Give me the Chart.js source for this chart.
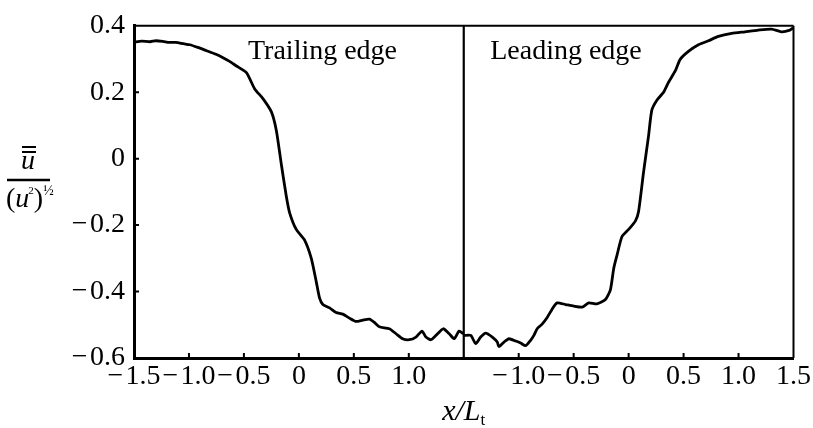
<!DOCTYPE html>
<html>
<head>
<meta charset="utf-8">
<script src="https://cdn.jsdelivr.net/npm/chart.js@4/dist/chart.umd.min.js"></script>
<style>
  html, body { margin: 0; padding: 0; background: #fff; }
  #wrap { width: 813px; height: 428px; }
</style>
</head>
<body>
<div id="wrap"><canvas id="c" width="813" height="428"></canvas></div>
<script>
// ---- Data (x in units of x/L_t, y = u / (u'^2)^1/2) ----
const trailingX = [-1.50, -1.43, -1.355, -1.30, -1.237, -1.18, -1.119, -1.05, -0.992, -0.92, -0.840, -0.76, -0.690, -0.63, -0.568, -0.477, -0.402, -0.327, -0.250, -0.205, -0.160, -0.114, -0.084, -0.024, 0.052, 0.113, 0.158, 0.188, 0.218, 0.279, 0.339, 0.399, 0.46, 0.521, 0.581, 0.642, 0.687, 0.732, 0.823, 0.884, 0.944, 1.005, 1.065, 1.12, 1.156, 1.201, 1.247, 1.313, 1.368, 1.413, 1.458, 1.495];
const trailingY = [0.351, 0.354, 0.352, 0.355, 0.353, 0.350, 0.350, 0.346, 0.343, 0.335, 0.325, 0.315, 0.304, 0.293, 0.279, 0.259, 0.21, 0.181, 0.141, 0.085, -0.016, -0.114, -0.163, -0.213, -0.245, -0.30, -0.37, -0.419, -0.439, -0.449, -0.463, -0.468, -0.48, -0.49, -0.486, -0.483, -0.493, -0.506, -0.512, -0.527, -0.542, -0.545, -0.537, -0.519, -0.537, -0.545, -0.532, -0.512, -0.527, -0.542, -0.519, -0.527];

const leadingX = [-1.497, -1.436, -1.391, -1.346, -1.300, -1.240, -1.195, -1.180, -1.134, -1.089, -1.028, -0.983, -0.937, -0.892, -0.862, -0.832, -0.787, -0.741, -0.696, -0.651, -0.574, -0.499, -0.424, -0.363, -0.288, -0.211, -0.166, -0.136, -0.106, -0.061, 0.000, 0.061, 0.091, 0.136, 0.181, 0.211, 0.257, 0.318, 0.363, 0.424, 0.469, 0.544, 0.635, 0.726, 0.817, 0.937, 1.059, 1.180, 1.300, 1.391, 1.467, 1.497];
const leadingY = [-0.532, -0.532, -0.557, -0.537, -0.525, -0.537, -0.552, -0.566, -0.552, -0.542, -0.549, -0.555, -0.563, -0.547, -0.532, -0.512, -0.498, -0.478, -0.453, -0.434, -0.439, -0.444, -0.447, -0.434, -0.437, -0.424, -0.395, -0.331, -0.291, -0.235, -0.213, -0.188, -0.158, -0.04, 0.068, 0.146, 0.176, 0.2, 0.23, 0.264, 0.299, 0.323, 0.343, 0.355, 0.368, 0.377, 0.382, 0.387, 0.39, 0.382, 0.387, 0.394];

// bottom axis: two panels side by side, each spanning -1.5 .. 1.5
const xTickLabels = ['\u2212\u200a1.5', '\u2212\u200a1.0', '\u2212\u200a0.5', '0', '0.5', '1.0', '', '\u2212\u200a1.0', '\u2212\u200a0.5', '0', '0.5', '1.0', '1.5'];
const yTickLabels = ['\u2212\u200a0.6', '\u2212\u200a0.4', '\u2212\u200a0.2', '0', '0.2', '0.4'];
const panelLabels = ['Trailing edge', 'Leading edge'];

// ---- Build library data ----
const trailingOffset = 1.5, leadingOffset = 4.5;
const trailingPts = trailingX.map((x, i) => ({ x: x + trailingOffset, y: trailingY[i] }));
const leadingPts = leadingX.map((x, i) => ({ x: x + leadingOffset, y: leadingY[i] }));

const FONT = 'Liberation Serif, Times New Roman, serif';

const decor = {
  id: 'decor',
  afterDraw(chart) {
    const { ctx, chartArea: a, scales: { x, y } } = chart;
    ctx.save();
    ctx.strokeStyle = '#000';
    ctx.fillStyle = '#000';
    ctx.lineCap = 'butt';
    // top and right frame
    ctx.lineWidth = 2;
    ctx.beginPath();
    ctx.moveTo(a.left, a.top); ctx.lineTo(a.right, a.top);
    ctx.moveTo(a.right, a.top); ctx.lineTo(a.right, a.bottom);
    ctx.stroke();
    // divider between panels
    const mx = x.getPixelForValue(3);
    ctx.lineWidth = 2.2;
    ctx.beginPath();
    ctx.moveTo(mx, a.top); ctx.lineTo(mx, a.bottom);
    ctx.stroke();
    // inward tick marks
    ctx.lineWidth = 2;
    ctx.beginPath();
    x.ticks.forEach((t, i) => {
      const px = x.getPixelForTick(i);
      if (Math.abs(t.value - 3) < 1e-6 || i === 0 || i === x.ticks.length - 1) return;
      ctx.moveTo(px, a.bottom); ctx.lineTo(px, a.bottom - 5);
    });
    y.ticks.forEach((t, i) => {
      if (i === 0 || i === y.ticks.length - 1) return;
      const py = y.getPixelForTick(i);
      ctx.moveTo(a.left, py); ctx.lineTo(a.left + 5, py);
    });
    ctx.stroke();
    // panel labels
    ctx.font = '28px ' + FONT;
    ctx.textAlign = 'center';
    ctx.textBaseline = 'alphabetic';
    const ly = y.getPixelForValue(0.301);
    ctx.fillText(panelLabels[0], x.getPixelForValue(1.715), ly);
    ctx.fillText(panelLabels[1], x.getPixelForValue(3.93), ly);

    // y-axis title: u (double bar) over (u^2)^(1/2)
    ctx.textAlign = 'left';
    ctx.font = 'italic 28px ' + FONT;
    const uw = ctx.measureText('u').width;
    const ux = 28 - uw / 2;
    ctx.fillText('u', ux, 169);
    ctx.lineWidth = 1.8;
    ctx.beginPath();
    ctx.moveTo(ux + 1, 147); ctx.lineTo(ux + uw + 1, 147);
    ctx.moveTo(ux + 1, 152); ctx.lineTo(ux + uw + 1, 152);
    ctx.stroke();
    ctx.lineWidth = 2.4;
    ctx.beginPath();
    ctx.moveTo(7, 180); ctx.lineTo(50, 180);
    ctx.stroke();
    let cx = 6;
    const by = 207;
    ctx.font = '28px ' + FONT;
    ctx.fillText('(', cx, by); cx += ctx.measureText('(').width;
    ctx.font = 'italic 28px ' + FONT;
    ctx.fillText('u', cx, by); cx += ctx.measureText('u').width;
    ctx.font = '11px ' + FONT;
    ctx.fillText('2', cx - 1, by - 13); cx += ctx.measureText('2').width - 1;
    ctx.font = '28px ' + FONT;
    ctx.fillText(')', cx, by); cx += ctx.measureText(')').width;
    ctx.font = '14px ' + FONT;
    ctx.fillText('\u00bd', cx, by - 12);

    // x-axis title: x/L_t
    ctx.font = 'italic 30px ' + FONT;
    const main = 'x/L';
    const mw = ctx.measureText(main).width;
    ctx.font = '17px ' + FONT;
    const sw = ctx.measureText('t').width;
    const tx = (a.left + a.right) / 2 - (mw + sw) / 2;
    ctx.font = 'italic 30px ' + FONT;
    ctx.fillText(main, tx, 420);
    ctx.font = '17px ' + FONT;
    ctx.fillText('t', tx + mw, 425);
    ctx.restore();
  }
};

new Chart(document.getElementById('c'), {
  type: 'scatter',
  data: {
    datasets: [
      { label: 'Trailing edge', data: trailingPts, showLine: true, borderColor: '#000', borderWidth: 2.8, pointRadius: 0, tension: 0.2, fill: false },
      { label: 'Leading edge', data: leadingPts, showLine: true, borderColor: '#000', borderWidth: 2.8, pointRadius: 0, tension: 0.2, fill: false }
    ]
  },
  options: {
    responsive: false,
    devicePixelRatio: 1,
    animation: false,
    layout: { padding: { top: 19, right: 18, bottom: 0, left: 0 } },
    plugins: { legend: { display: false }, tooltip: { enabled: false } },
    scales: {
      x: {
        type: 'linear', min: 0, max: 6,
        afterFit(s) { s.height = 70; },
        afterBuildTicks(s) { s.ticks = xTickLabels.map((_, i) => ({ value: i * 0.5 })); },
        ticks: {
          autoSkip: false, maxRotation: 0, color: '#000', padding: 2,
          font: { family: FONT, size: 28 },
          callback: (v, i) => xTickLabels[i]
        },
        grid: { drawOnChartArea: false, drawTicks: false },
        border: { display: true, color: '#000', width: 3 }
      },
      y: {
        type: 'linear', min: -0.6, max: 0.4,
        afterFit(s) { s.width = 134; },
        afterBuildTicks(s) { s.ticks = yTickLabels.map((_, i) => ({ value: -0.6 + i * 0.2 })); },
        ticks: {
          color: '#000', padding: 9,
          font: { family: FONT, size: 28 },
          callback: (v, i) => yTickLabels[i]
        },
        grid: { drawOnChartArea: false, drawTicks: false },
        border: { display: true, color: '#000', width: 3 }
      }
    }
  },
  plugins: [decor]
});
</script>
</body>
</html>
